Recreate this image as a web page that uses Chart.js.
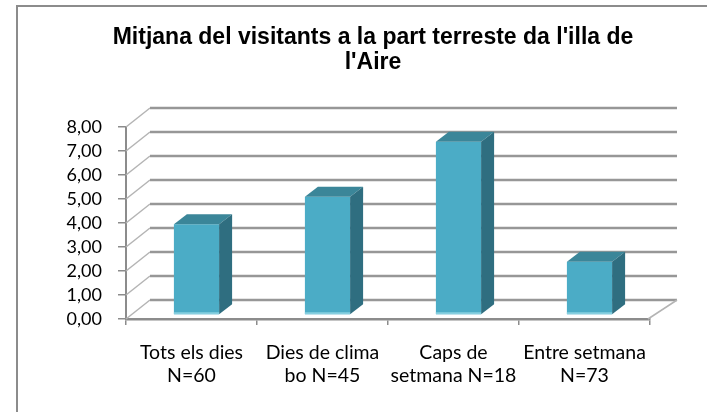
<!DOCTYPE html>
<html>
<head>
	<script type="text/javascript" src="https://cdn.jsdelivr.net/npm/chart.js@4/dist/chart.umd.min.js"></script>
	<style>
		body { margin: 0; background: #fff; }
	</style>
</head>
<body>
	<canvas id="canvas" width="707" height="412"></canvas>
	<script type="text/javascript">

	var titleLines = ["Mitjana del visitants a la part terreste da l'illa de", "l'Aire"];
	var categories = [
		["Tots els dies", "N=60"],
		["Dies de clima", "bo N=45"],
		["Caps de", "setmana N=18"],
		["Entre setmana", "N=73"]
	];
	var mitjana = [3.78, 4.93, 7.22, 2.22];
	var yTickValues = [0, 1, 2, 3, 4, 5, 6, 7, 8];

	// depth of the back wall and of the bar plane (fake 3D, like excel)
	var wallDx = 24, wallDy = -19;
	var barShiftX = 5, barShiftY = -4;
	var barDx = 13, barDy = -10;

	var fakeDepth = {
		id: 'fakeDepth',
		beforeDraw: function(chart){
			var ctx = chart.ctx;
			ctx.save();
			ctx.fillStyle = '#fff';
			ctx.fillRect(0, 0, chart.width, chart.height);
			ctx.strokeStyle = '#8c8c8c';
			ctx.lineWidth = 2;
			ctx.strokeRect(17, 6, chart.width + 20, chart.height + 20);
			ctx.restore();
		},
		beforeDatasetsDraw: function(chart){
			var ctx = chart.ctx;
			var area = chart.chartArea;
			var y = chart.scales.y;
			var backRight = area.right + 27;
			ctx.save();
			yTickValues.forEach(function(v){
				var yf = y.getPixelForValue(v);
				ctx.strokeStyle = '#b4b4b4';
				ctx.lineWidth = 1.5;
				ctx.beginPath();
				ctx.moveTo(area.left, yf);
				ctx.lineTo(area.left + wallDx, yf + wallDy);
				ctx.stroke();
				ctx.strokeStyle = '#979797';
				ctx.lineWidth = 2.5;
				ctx.beginPath();
				ctx.moveTo(area.left + wallDx, yf + wallDy);
				ctx.lineTo(backRight, yf + wallDy);
				ctx.stroke();
			});
			// right edge of the floor
			ctx.strokeStyle = '#b4b4b4';
			ctx.lineWidth = 1.5;
			ctx.beginPath();
			ctx.moveTo(area.right - 2, area.bottom);
			ctx.lineTo(backRight, area.bottom + wallDy);
			ctx.stroke();
			ctx.restore();

			ctx.save();
			ctx.translate(barShiftX, barShiftY);
		},
		afterDatasetsDraw: function(chart){
			var ctx = chart.ctx;
			chart.getDatasetMeta(0).data.forEach(function(bar){
				var x0 = bar.x - bar.width / 2, x1 = bar.x + bar.width / 2;
				var yt = bar.y, yb = bar.base;
				ctx.fillStyle = '#3b8699';
				ctx.beginPath();
				ctx.moveTo(x0, yt);
				ctx.lineTo(x1, yt);
				ctx.lineTo(x1 + barDx, yt + barDy);
				ctx.lineTo(x0 + barDx, yt + barDy);
				ctx.closePath();
				ctx.fill();
				ctx.fillStyle = '#2f6e80';
				ctx.beginPath();
				ctx.moveTo(x1, yt);
				ctx.lineTo(x1 + barDx, yt + barDy);
				ctx.lineTo(x1 + barDx, yb + barDy);
				ctx.lineTo(x1, yb);
				ctx.closePath();
				ctx.fill();
				// light lower edge of the front face
				ctx.fillStyle = '#86cfe0';
				ctx.fillRect(x0, yb - 2, x1 - x0, 2);
			});
			ctx.restore();
		}
	};

	var ctx = document.getElementById("canvas").getContext("2d");
	var chart = new Chart(ctx, {
		type: 'bar',
		data: {
			labels: categories,
			datasets: [{
				data: mitjana,
				backgroundColor: '#4bacc6',
				borderWidth: 0,
				categoryPercentage: 1,
				barPercentage: 0.345
			}]
		},
		options: {
			responsive: false,
			animation: false,
			layout: { padding: { left: 39, right: 0, top: 0, bottom: 0 } },
			plugins: {
				legend: { display: false },
				tooltip: { enabled: false },
				title: {
					display: true,
					text: titleLines,
					color: '#000',
					font: { family: 'Liberation Sans', weight: 'bold', size: 23, lineHeight: 1.065 },
					padding: { top: 25.7, bottom: 52.3 }
				}
			},
			scales: {
				x: {
					grid: { display: true, drawOnChartArea: false, drawTicks: true, tickLength: 6, color: '#8c8c8c', lineWidth: 1.5 },
					border: { display: true, color: '#8c8c8c', width: 2.5 },
					ticks: {
						color: '#000',
						padding: 16,
						maxRotation: 0,
						autoSkip: false,
						font: { family: 'Lato', size: 19.5, lineHeight: 1.2 }
					},
					afterFit: function(s){ s.height = 93; }
				},
				y: {
					min: 0,
					max: 8,
					grid: { display: true, drawOnChartArea: false, drawTicks: true, tickLength: 8, color: '#8c8c8c', lineWidth: 1.5 },
					border: { display: true, color: '#8c8c8c', width: 2 },
					afterBuildTicks: function(s){
						s.ticks = yTickValues.map(function(v){ return { value: v }; });
					},
					ticks: {
						color: '#000',
						padding: 16,
						autoSkip: false,
						font: { family: 'Lato', size: 18 },
						callback: function(v){ return v.toFixed(2).replace('.', ','); }
					},
					afterFit: function(s){ s.width = 87; }
				},
				y2: {
					position: 'right',
					display: true,
					grid: { display: false },
					border: { display: false },
					ticks: { display: false },
					afterFit: function(s){ s.width = 57; }
				}
			}
		},
		plugins: [fakeDepth]
	});

	</script>
</body>
</html>
